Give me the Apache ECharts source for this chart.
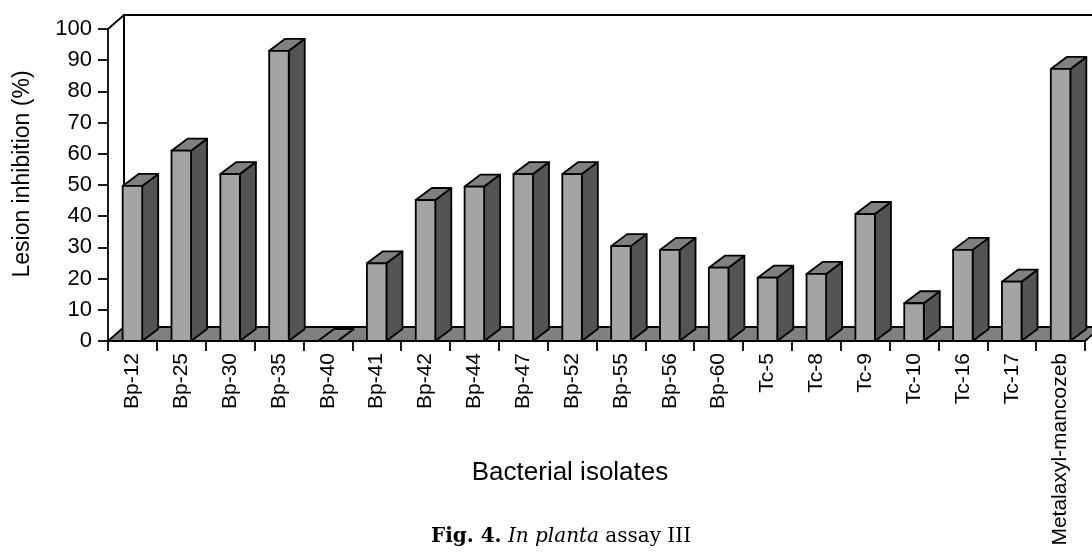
<!DOCTYPE html>
<html><head><meta charset="utf-8">
<script src="https://cdn.jsdelivr.net/npm/echarts@6/dist/echarts.min.js"></script>
<style>html,body{margin:0;padding:0;background:#fff}#c{width:1092px;height:552px}</style>
</head><body><div id="c"></div>
<script>
const categories = ['Bp-12','Bp-25','Bp-30','Bp-35','Bp-40','Bp-41','Bp-42','Bp-44','Bp-47','Bp-52','Bp-55','Bp-56','Bp-60','Tc-5','Tc-8','Tc-9','Tc-10','Tc-16','Tc-17','Metalaxyl-mancozeb'];
const values = [49.7, 61.0, 53.5, 93.0, 0, 24.9, 45.2, 49.5, 53.5, 53.5, 30.4, 29.2, 23.5, 20.3, 21.5, 40.7, 12.1, 29.2, 19.0, 87.2];
const yMin = 0, yMax = 100, yStep = 10;
const yTitle = 'Lesion inhibition (%)';
const xTitle = 'Bacterial isolates';

const FONT = "'Liberation Sans', Arial, sans-serif";
const DX = 16, DY = -12;      // bar depth
const FDX = 16, FDY = -14;    // floor / wall depth

function frameItem(params, api) {
  const cs = params.coordSys;
  const x0 = cs.x, x1 = cs.x + cs.width, yb = cs.y + cs.height, yt = cs.y;
  return {type: 'group', children: [
    {type: 'polygon', shape: {points: [[x0, yb], [x1, yb], [x1 + FDX, yb + FDY], [x0 + FDX, yb + FDY]]},
     style: {fill: '#808080', stroke: '#000', lineWidth: 1.8}},
    {type: 'polyline', shape: {points: [[x0 + FDX, yb + FDY], [x0 + FDX, yt + FDY], [x1 + FDX + 40, yt + FDY]]},
     style: {fill: null, stroke: '#000', lineWidth: 2}},
    {type: 'line', shape: {x1: x0, y1: yt, x2: x0 + FDX, y2: yt + FDY},
     style: {stroke: '#000', lineWidth: 1.8}}
  ]};
}

function barItem(params, api) {
  const i = api.value(0), v = api.value(1);
  const top = api.coord([i, v]), base = api.coord([i, 0]);
  const bw = api.size([1, 0])[0];
  const w = bw * 0.4;
  const xl = top[0] - w / 2, xr = top[0] + w / 2;
  const yt = top[1], yb = base[1];
  const st = {stroke: '#000', lineWidth: 1.8, lineJoin: 'round'};
  return {type: 'group', children: [
    {type: 'polygon', shape: {points: [[xr, yb], [xr + DX, yb + DY], [xr + DX, yt + DY], [xr, yt]]},
     style: Object.assign({fill: '#545454'}, st)},
    {type: 'polygon', shape: {points: [[xl, yt], [xr, yt], [xr + DX, yt + DY], [xl + DX, yt + DY]]},
     style: Object.assign({fill: '#808080'}, st)},
    {type: 'polygon', shape: {points: [[xl, yb], [xr, yb], [xr, yt], [xl, yt]]},
     style: Object.assign({fill: '#a4a4a4'}, st)}
  ]};
}

const chart = echarts.init(document.getElementById('c'), null, {renderer: 'canvas'});
chart.setOption({
  backgroundColor: '#fff',
  animation: false,
  grid: {left: 108, right: 7, top: 29, bottom: 211, containLabel: false},
  xAxis: {
    type: 'category', data: categories, boundaryGap: true,
    axisLine: {show: true, lineStyle: {color: '#000', width: 1.8}},
    axisTick: {show: true, interval: 0, length: 10, lineStyle: {color: '#000', width: 1.8}},
    axisLabel: {interval: 0, rotate: 90, margin: 12, fontSize: 21, color: '#000', fontFamily: FONT},
    splitLine: {show: false}
  },
  yAxis: {
    type: 'value', min: yMin, max: yMax, interval: yStep,
    axisLine: {show: true, lineStyle: {color: '#000', width: 1.8}},
    axisTick: {show: true, length: 10, lineStyle: {color: '#000', width: 1.8}},
    axisLabel: {margin: 16, fontSize: 22, color: '#000', fontFamily: FONT},
    splitLine: {show: false}
  },
  graphic: [
    {type: 'text', x: 23, y: 174, rotation: Math.PI / 2,
     style: {text: yTitle, fontSize: 23, fontFamily: FONT, fill: '#000', align: 'center', verticalAlign: 'middle'}},
    {type: 'text', x: 570, y: 473,
     style: {text: xTitle, fontSize: 26, fontFamily: FONT, fill: '#000', align: 'center', verticalAlign: 'middle'}},
    {type: 'text', x: 561, y: 537,
     style: {
       text: '{b|Fig. 4.} {i|In planta} {r|assay III}',
       align: 'center', verticalAlign: 'middle',
       rich: {
         b: {fontFamily: "'DejaVu Serif', serif", fontWeight: 'bold', fontSize: 20, fill: '#000'},
         i: {fontFamily: "'DejaVu Serif', serif", fontStyle: 'italic', fontSize: 20, fill: '#000'},
         r: {fontFamily: "'DejaVu Serif', serif", fontSize: 20, fill: '#000'}
       },
       fontFamily: "'DejaVu Serif', serif", fontSize: 20, fill: '#000'
     }}
  ],
  series: [
    {type: 'custom', name: 'frame', silent: true, renderItem: frameItem, data: [[0, 0]], z: 1},
    {type: 'custom', name: 'bars', silent: true, renderItem: barItem,
     data: values.map((v, i) => [i, v]), encode: {x: 0, y: 1}, z: 2}
  ]
});
</script>
</body></html>
